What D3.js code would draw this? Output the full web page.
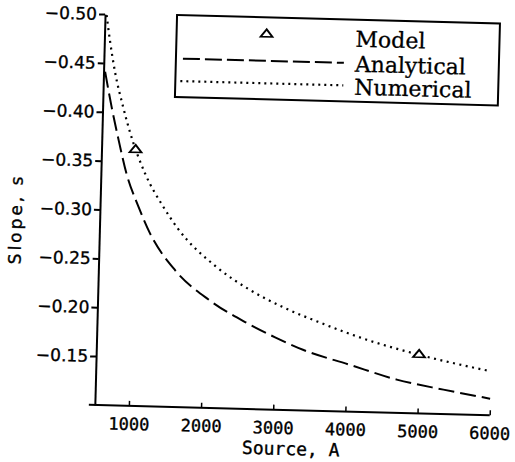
<!DOCTYPE html>
<html>
<head>
<meta charset="utf-8">
<script src="https://cdn.jsdelivr.net/npm/d3@7"></script>
<style>
body { margin: 0; background: #fff; }
</style>
</head>
<body>
<div id="vis-div"></div>
<script>
'use strict'

// values
let analyticalSource = [550, 650, 760, 880, 1060, 1230, 1590, 2080, 2600, 3000, 3390, 4040, 4700, 5350, 6000]
let analyticalSlope = [-0.441, -0.406, -0.372, -0.338, -0.304, -0.277, -0.240, -0.210, -0.188, -0.174, -0.162, -0.148, -0.134, -0.125, -0.117]

let numericalSource = [550, 610, 690, 810, 920, 1140, 1400, 1610, 2170, 2630, 3100, 3590, 4270, 5000, 6000]
let numericalSlope = [-0.499, -0.471, -0.440, -0.406, -0.379, -0.338, -0.305, -0.283, -0.244, -0.222, -0.205, -0.191, -0.174, -0.160, -0.145]

let modelSource = [1000, 5000]
let modelSlope = [-0.362, -0.160]

let xTicks = [1000, 2000, 3000, 4000, 5000, 6000]
let yTicks = [-0.50, -0.45, -0.40, -0.35, -0.30, -0.25, -0.20, -0.15]

let legendLabels = ["Model", "Analytical", "Numerical"]


function zipUp(xs, ys){
	return xs.map(function(d, i){
		return {x: d, y: ys[i]}
	})
}


function renderSlopeChart(width, height){

	let svg = d3.select('#vis-div')
		.append("svg")
		.attr("width", width)
		.attr("height", height)
		.style("display", "block")
		.style("background", "#fff")

	// the scan is tilted a little clockwise
	let g = svg.append("g").attr("transform", "rotate(1.5,290,210)")

	let xScale = d3.scaleLinear().domain([528, 6000]).range([100, 495])
	let yScale = d3.scaleLinear().domain([-0.10, -0.50]).range([410, 19])

	let yAxis = g.append("g")
		.attr("transform", "translate(" + xScale.range()[0] + ",0)")
		.call(d3.axisLeft(yScale).tickValues(yTicks).tickFormat(d3.format(".2f")).tickSizeInner(6).tickSizeOuter(0).tickPadding(2))
	yAxis.selectAll("text")
		.style("font-family", "'DejaVu Sans', sans-serif")
		.style("font-size", "17px")
		.attr("fill", "#000")
		.attr("stroke", "#000")
		.attr("stroke-width", 0.35)
	yAxis.selectAll("line").attr("stroke", "#000").attr("stroke-width", 2)
	yAxis.select(".domain").attr("stroke", "#000").attr("stroke-width", 2)

	let xAxis = g.append("g")
		.attr("transform", "translate(0," + yScale.range()[0] + ")")
		.call(d3.axisBottom(xScale).tickValues(xTicks).tickFormat(d3.format("d")).tickSizeInner(-5).tickSizeOuter(0).tickPadding(12))
	xAxis.selectAll("text")
		.style("font-family", "'DejaVu Sans Mono', monospace")
		.style("font-size", "17px")
		.attr("fill", "#000")
		.attr("stroke", "#000")
		.attr("stroke-width", 0.35)
	xAxis.selectAll("line").attr("stroke", "#000").attr("stroke-width", 1.5)
	// axis line runs a bit past the y axis on the left, like the original
	xAxis.select(".domain").attr("d", "M94,0H" + xScale.range()[1]).attr("stroke", "#000").attr("stroke-width", 2)

	g.append("text")
		.attr("x", 297)
		.attr("y", 455)
		.attr("text-anchor", "middle")
		.style("font-family", "'DejaVu Sans Mono', monospace")
		.style("font-size", "18px")
		.attr("stroke", "#000")
		.attr("stroke-width", 0.35)
		.text("Source, A")

	g.append("text")
		.attr("transform", "translate(22,226) rotate(-90)")
		.attr("text-anchor", "middle")
		.style("font-family", "'DejaVu Sans', sans-serif")
		.style("font-size", "17px")
		.style("letter-spacing", "3px")
		.attr("stroke", "#000")
		.attr("stroke-width", 0.35)
		.text("Slope, s")

	let line = d3.line()
		.x(function(d){ return xScale(d.x) })
		.y(function(d){ return yScale(d.y) })
		.curve(d3.curveMonotoneX)

	g.append("path")
		.datum(zipUp(analyticalSource, analyticalSlope))
		.attr("class", "analytical")
		.attr("d", line)
		.attr("fill", "none")
		.attr("stroke", "#000")
		.attr("stroke-width", 2)
		.attr("stroke-dasharray", "16,6")

	g.append("path")
		.datum(zipUp(numericalSource, numericalSlope))
		.attr("class", "numerical")
		.attr("d", line)
		.attr("fill", "none")
		.attr("stroke", "#000")
		.attr("stroke-width", 2.2)
		.attr("stroke-dasharray", "2,4.5")

	let tri = d3.symbol().type(d3.symbolTriangle).size(50)

	g.selectAll(".model").data(zipUp(modelSource, modelSlope)).enter().append("path")
		.attr("class", "model")
		.attr("d", tri)
		.attr("transform", function(d){
			return "translate(" + xScale(d.x) + "," + yScale(d.y) + ") scale(1.1,0.8)"
		})
		.attr("fill", "#fff")
		.attr("stroke", "#000")
		.attr("stroke-width", 2)

	// legend
	let leg = g.append("g").attr("class", "legend")
	leg.append("rect")
		.attr("x", 172)
		.attr("y", 18)
		.attr("width", 323)
		.attr("height", 82)
		.attr("fill", "#fff")
		.attr("stroke", "#000")
		.attr("stroke-width", 2)

	leg.append("path")
		.attr("d", tri)
		.attr("transform", "translate(262,35) scale(1.1,0.8)")
		.attr("fill", "#fff")
		.attr("stroke", "#000")
		.attr("stroke-width", 2)

	leg.append("line")
		.attr("x1", 179).attr("x2", 340)
		.attr("y1", 61.5).attr("y2", 61.5)
		.attr("stroke", "#000")
		.attr("stroke-width", 2)
		.attr("stroke-dasharray", "17,5")

	leg.append("line")
		.attr("x1", 177).attr("x2", 340)
		.attr("y1", 84).attr("y2", 84)
		.attr("stroke", "#000")
		.attr("stroke-width", 2.2)
		.attr("stroke-dasharray", "2,4")

	let baselines = [45, 70, 93]
	leg.selectAll(".leg-text").data(legendLabels).enter().append("text")
		.attr("class", "leg-text")
		.attr("x", 351)
		.attr("y", function(d, i){ return baselines[i] })
		.style("font-family", "'DejaVu Serif', serif")
		.style("font-size", "22px")
		.attr("stroke", "#000")
		.attr("stroke-width", 0.3)
		.text(function(d){ return d })
}

renderSlopeChart(515, 462)
</script>
</body>
</html>
